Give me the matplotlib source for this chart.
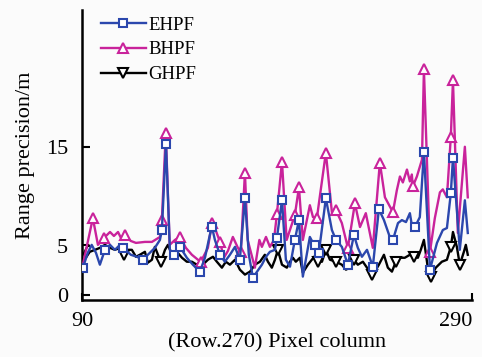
import matplotlib
matplotlib.use('Agg')
import matplotlib.pyplot as plt

plt.rcParams['font.family'] = ['Liberation Serif', 'DejaVu Serif']

# pixel column (row 270) and range precision / m
eh_x = [90.5, 93, 95, 97.2, 99.2, 101.8, 104.4, 106.9, 109.5, 111, 115.1, 118.2, 121.3, 123.8,
        127.4, 130, 131, 133.1, 135.1, 137.2, 140.3, 143.8, 146.9, 150.5, 153.1, 155.6, 156.7,
        158.2, 160.8, 163.3, 165.9, 168.5, 170, 171, 173.6, 175.6, 177.7, 182.3, 184.4, 186.4,
        189, 190, 192.6, 194.6, 196.7, 199.2, 201.3, 203.3, 206.9, 208.5, 209.5, 211.5, 215.1,
        218.2, 220.3, 223.3, 226.4, 229.5, 231.5, 233.6, 236.2, 239.2, 242.3, 244.9, 247.9,
        249.5, 252.1, 254.1, 256.2, 258.2, 259.2, 260.8, 263.3, 265.4, 268.5, 272.1, 275.1,
        277.2, 279.2, 280.3, 283.8, 286.4, 287.9]
eh_y = [2.8, 4.3, 5.1, 4.3, 3.1, 4.6, 5.1, 4.6, 5.1, 4.8, 4.1, 3.9, 3.6, 4.1,
        4.8, 5.6, 6.6, 15.3, 4.6, 4.1, 4.9, 3.8, 3.1, 2.4, 3.8, 6.1, 6.9,
        5.6, 4.1, 3.4, 4.1, 4.9, 4.1, 3.6, 9.8, 4.1, 1.8, 3.1, 3.9, 4.4,
        4.6, 5.8, 9.6, 3.6, 2.9, 5.6, 7.6, 1.9, 5.9, 5.3, 5.1, 4.3, 9.8,
        6.6, 5.6, 4.9, 3.1, 6.1, 4.8, 3.9, 4.6, 2.9, 8.7, 7.6, 5.9,
        5.6, 7.3, 7.6, 7.4, 8.3, 7.1, 6.9, 7.9, 14.5, 2.6, 5.3, 6.6,
        6.8, 10.3, 13.9, 4.6, 9.6, 6.3]
eh_marks = [0, 5, 9, 12, 16, 17, 19, 20, 23, 26, 28, 33, 34, 36, 41, 42, 45, 46, 50, 51,
            52, 54, 56, 57, 61, 62, 65, 71, 73, 74, 78, 79]

bh_x = [90.5, 92, 95.6, 98.2, 101.3, 104.4, 106.4, 108.5, 110.5, 112, 115, 117.7, 122.3,
        125.9, 130, 131, 133, 135, 137.7, 140.3, 143.3, 146.4, 149.5, 151, 154.6, 156.7,
        158.2, 160.8, 162.8, 164.9, 167.4, 170, 171.5, 173.6, 175, 178.7, 181, 182.3, 184.4,
        186.4, 188.5, 190, 192.6, 195, 199.2, 201.3, 203.3, 206.9, 208.5, 210.5, 215.1,
        218.2, 220.3, 223.3, 226.4, 230, 232.6, 235.6, 239.2, 242.8, 245.4, 249.5, 251.5,
        253.1, 254.6, 256.7, 258.2, 259.2, 259.7, 261.8, 264.4, 265.4, 268.5, 271, 273.6,
        275.1, 277.2, 279.2, 280.3, 282.8, 286.4, 287.9]
bh_y = [3.1, 4.5, 7.8, 5.1, 5.8, 6.4, 6.0, 6.4, 5.6, 6.1, 5.5, 5.3, 5.4,
        5.4, 5.9, 7.6, 16.4, 5.1, 5.6, 5.9, 4.8, 4.1, 3.6, 3.4, 4.8, 7.3,
        6.8, 5.4, 3.8, 4.5, 5.9, 4.8, 4.4, 12.4, 5.6, 2.8, 5.6, 4.9, 5.9,
        4.9, 5.6, 8.2, 13.5, 5.6, 8.1, 10.9, 5.6, 9.1, 7.9, 7.8, 14.4,
        8.4, 8.6, 7.3, 4.8, 9.3, 6.9, 8.3, 4.8, 13.4, 9.9, 8.4, 10.6,
        12.0, 11.4, 12.7, 11.5, 12.2, 11.0, 12.0, 13.7, 22.8, 4.4, 7.8, 10.4,
        10.7, 9.9, 16.0, 21.7, 6.3, 15.0, 9.9]
bh_marks = [2, 4, 9, 15, 16, 19, 23, 25, 27, 32, 33, 41, 42, 44, 45, 49, 50, 52, 54, 55,
            59, 61, 68, 71, 72, 77, 78]

gh_x = [90.5, 92, 94, 96.7, 99.2, 101.8, 104.4, 106.9, 109.5, 111.5, 113.6, 115.6, 117.7,
        119.7, 122.3, 123.8, 125.9, 127.4, 129, 130.5, 132.6, 134.1, 136.2, 138.7, 141.3,
        143.8, 146.4, 148.9, 150.5, 152, 154.6, 157.2, 159.2, 161.8, 163.8, 165.9, 168.5,
        171, 173.6, 176.2, 178.7, 181.3, 183.8, 185.4, 187.4, 189, 190.5, 192.6, 195.1,
        196.7, 198.2, 199.7, 201.8, 203.3, 205.9, 207.9, 210, 211, 213.1, 215.1, 217.2,
        220.3, 223.3, 225.4, 227.4, 229.5, 231.5, 234.1, 236.2, 238.7, 240.8, 242.3, 244.9,
        246.9, 249, 251, 253.1, 255.6, 258.2, 260.3, 262.3, 263.8, 265.4, 267.4, 269,
        271.5, 274.6, 277.2, 279.2, 280.3, 282.3, 283.8, 285.9, 286.9, 287.9]
gh_y = [4.6, 3.8, 4.4, 4.6, 4.8, 5.1, 4.8, 4.6, 4.8, 4.1, 4.6, 4.6, 3.9,
        4.1, 4.4, 3.3, 3.6, 4.9, 4.1, 3.4, 4.6, 5.1, 4.1, 4.4, 3.8,
        3.4, 3.4, 3.1, 3.4, 3.1, 3.6, 3.9, 3.4, 2.8, 3.4, 3.1, 3.6,
        2.6, 2.1, 2.4, 3.1, 3.4, 4.1, 3.4, 2.8, 3.6, 4.6, 3.1, 2.8,
        3.4, 3.8, 3.4, 3.8, 2.3, 3.1, 3.6, 4.1, 3.4, 3.4, 4.6, 3.6,
        3.4, 3.1, 2.6, 2.8, 3.6, 3.1, 3.4, 2.8, 2.1, 2.6, 3.1, 4.1,
        2.8, 2.4, 3.4, 3.8, 3.8, 4.1, 3.9, 3.8, 4.6, 5.6, 2.8, 1.9,
        2.8, 3.4, 3.6, 4.9, 6.4, 4.9, 3.1, 4.4, 5.1, 4.1]
gh_marks = [0, 9, 19, 46, 57, 59, 61, 65, 69, 75, 79, 84, 88, 91]

x_ticks = [90, 290]
y_ticks = [0, 5, 15]

fig = plt.figure(figsize=(4.82, 3.57), dpi=100, facecolor='#fbfbfb')
ax = fig.add_axes([0.170, 0.160, 0.809, 0.812])
ax.set_facecolor('#fbfbfb')

blue = '#2b47ad'
pink = '#c9239b'
ax.plot(gh_x, gh_y, color='black', lw=1.7, marker='v', markevery=gh_marks, ms=7,
        mfc='white', mec='black', mew=1.5, label='GHPF', zorder=2)
ax.plot(bh_x, bh_y, color=pink, lw=1.7, marker='^', markevery=bh_marks, ms=7,
        mfc='white', mec=pink, mew=1.5, label='BHPF', zorder=3)
ax.plot(eh_x, eh_y, color=blue, lw=1.7, marker='s', markevery=eh_marks, ms=5.5,
        mfc='white', mec=blue, mew=1.5, label='EHPF', zorder=4)

ax.set_xlim(90, 290)
ax.set_ylim(-0.45, 28.8)
ax.set_xticks(x_ticks)
ax.set_yticks(y_ticks)
ax.tick_params(axis='both', direction='in', labelsize=16, width=1.5)
ax.tick_params(axis='y', length=6, pad=10)
ax.tick_params(axis='x', length=5, pad=9)
xl = ax.get_xticklabels()
xl[-1].set_horizontalalignment('right')
for s in ['top', 'right']:
    ax.spines[s].set_visible(False)
for s in ['left', 'bottom']:
    ax.spines[s].set_linewidth(1.8)

ax.set_xlabel('(Row.270) Pixel column', fontsize=16, labelpad=1)
ax.set_ylabel('Range precision/m', fontsize=16, labelpad=8)

h, l = ax.get_legend_handles_labels()
ax.legend(h[::-1], l[::-1], loc='upper left', bbox_to_anchor=(0.005, 1.035), frameon=False,
          fontsize=13.5, handlelength=2.4, handletextpad=0.15, labelspacing=0.4)

fig.savefig('out.png', dpi=100, facecolor=fig.get_facecolor())
